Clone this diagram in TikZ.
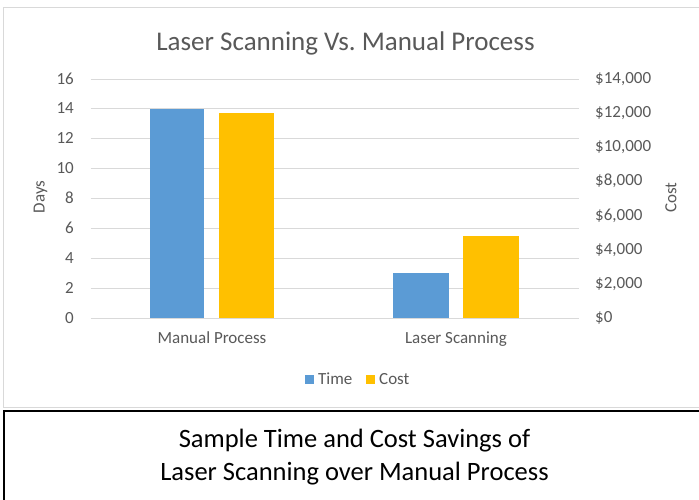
\documentclass[tikz,border=0pt]{standalone}
\usepackage{fontspec}
\setmainfont{Carlito}
\definecolor{txt}{HTML}{595959}
\definecolor{gridc}{HTML}{D9D9D9}
\definecolor{barblue}{HTML}{5B9BD5}
\definecolor{baryel}{HTML}{FFC000}
\begin{document}
\begin{tikzpicture}[x=1pt,y=-1pt,
  ticklab/.style={font=\fontsize{17}{20}\selectfont, text=txt, inner sep=0pt},
  titlelab/.style={font=\fontsize{27}{32}\selectfont, text=txt, inner sep=0pt, anchor=base},
  caplab/.style={font=\fontsize{26.5}{32}\selectfont, text=black, inner sep=0pt, anchor=base},
  gridline/.style={draw=gridc, line width=1pt},
  frameline/.style={draw=gridc, line width=1pt},
  boxline/.style={draw=black, line width=2pt}]
\useasboundingbox (0,0) rectangle (699,499);
\fill[white] (0,0) rectangle (699,499);
% chart frame
\draw[frameline] (705,7) -- (3.5,7) -- (3.5,407.5) -- (705,407.5);
% caption box
\draw[boxline] (705,411) -- (4,411) -- (4,505);
% title
\node[titlelab] (title) at (345.5,50) {Laser Scanning Vs.\ Manual Process};
% gridlines and left ticks
\foreach \k in {0,...,8}{
  \pgfmathsetmacro{\yy}{318-\k*29.875}
  \draw[gridline] (90.5,\yy) -- (579,\yy);
  \pgfmathtruncatemacro{\lab}{2*\k}
  \node[ticklab, anchor=base east] (ly\k) at (74,\yy+5) {\lab};
}
% right ticks
\foreach \v/\t in {0/{\$0},2/{\$2,000},4/{\$4,000},6/{\$6,000},8/{\$8,000},10/{\$10,000},12/{\$12,000},14/{\$14,000}}{
  \pgfmathsetmacro{\yy}{318-\v/14*239}
  \node[ticklab, anchor=base west] (ry\v) at (595,\yy+4.5) {\t};
}
% bars
\fill[barblue] (150,318) rectangle (204,108.8);
\fill[baryel] (219,318) rectangle (274,113.1);
\fill[barblue] (393.3,318) rectangle (448.7,273.2);
\fill[baryel] (463.3,318) rectangle (518.7,236.1);
% category labels
\node[ticklab, anchor=base] (cat1) at (212,343.5) {Manual Process};
\node[ticklab, anchor=base] (cat2) at (456,343.5) {Laser Scanning};
% axis titles
\node[ticklab, rotate=90] (days) at (40.5,197) {Days};
\node[ticklab, rotate=90] (cost) at (671,197.5) {Cost};
% legend
\fill[barblue] (305,375) rectangle (313.5,384);
\node[ticklab, anchor=base west] (legt) at (318,384) {Time};
\fill[baryel] (366,375) rectangle (374.5,384);
\node[ticklab, anchor=base west] (legc) at (379,384) {Cost};
% caption
\node[caplab] (cap1) at (354.5,447.5) {Sample Time and Cost Savings of};
\node[caplab] (cap2) at (354.5,480.5) {Laser Scanning over Manual Process};
\end{tikzpicture}
\end{document}
